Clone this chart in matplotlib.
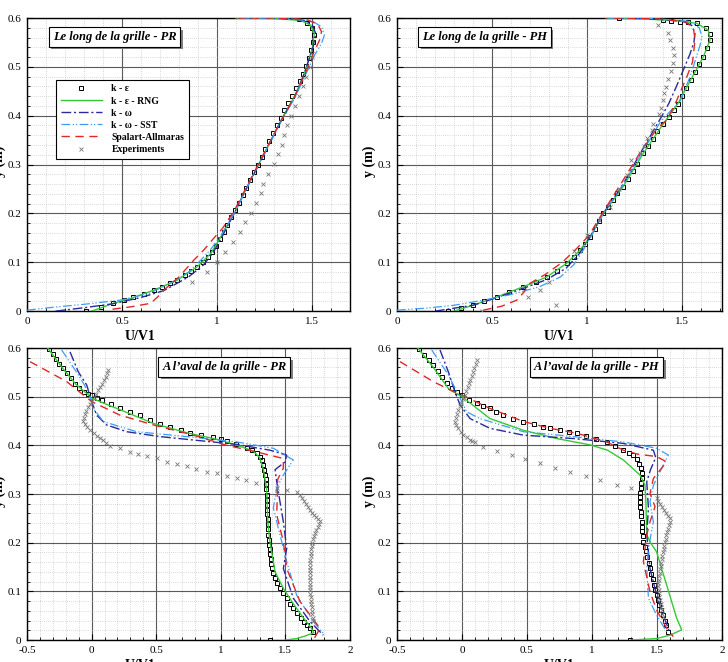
import matplotlib
matplotlib.use("Agg")
import matplotlib.pyplot as plt
from matplotlib import transforms
from matplotlib.ticker import MultipleLocator

plt.rcParams["font.family"] = ["Liberation Serif", "DejaVu Serif"]

# ------------------- #
# Le long de la grille - PR

pr_long_ke_x = [0.31, 0.39, 0.455, 0.51, 0.56, 0.615, 0.667, 0.71, 0.75, 0.79, 0.83, 0.865, 0.896, 0.925,
                0.95, 0.975, 0.995, 1.015, 1.035, 1.055, 1.075, 1.095, 1.115, 1.135, 1.155, 1.175, 1.195,
                1.215, 1.235, 1.255, 1.275, 1.295, 1.315, 1.335, 1.355, 1.375, 1.395, 1.415, 1.435, 1.455,
                1.47, 1.485, 1.497, 1.506, 1.51, 1.5, 1.475, 1.43]
pr_long_ke_y = [0.0, 0.008, 0.016, 0.022, 0.028, 0.035, 0.043, 0.05, 0.057, 0.064, 0.073, 0.082, 0.091, 0.101,
                0.111, 0.122, 0.134, 0.147, 0.162, 0.177, 0.192, 0.207, 0.222, 0.237, 0.252, 0.268, 0.284,
                0.3, 0.316, 0.332, 0.348, 0.364, 0.38, 0.396, 0.411, 0.426, 0.441, 0.456, 0.471, 0.486,
                0.502, 0.518, 0.534, 0.55, 0.566, 0.58, 0.59, 0.597]
pr_long_rng_x = [0.34, 0.455, 0.545, 0.667, 0.79, 0.896, 0.967, 1.02, 1.09, 1.16, 1.248, 1.337, 1.407, 1.46,
                 1.504, 1.512, 1.49, 1.44, 1.3, 1.1]
pr_long_rng_y = [0.0, 0.016, 0.026, 0.043, 0.063, 0.091, 0.118, 0.152, 0.2, 0.255, 0.323, 0.391, 0.439, 0.487,
                 0.541, 0.569, 0.586, 0.595, 0.599, 0.6]
pr_long_kw_x = [0.15, 0.3, 0.45, 0.6, 0.72, 0.85, 0.93, 0.98, 1.03, 1.09, 1.16, 1.25, 1.34, 1.41, 1.46, 1.505,
                1.52, 1.5, 1.45, 1.3, 1.1]
pr_long_kw_y = [0.0, 0.007, 0.015, 0.028, 0.042, 0.07, 0.095, 0.12, 0.155, 0.2, 0.255, 0.323, 0.391, 0.439,
                0.487, 0.54, 0.568, 0.587, 0.596, 0.6, 0.6]
pr_long_sst_x = [0.0, 0.14, 0.3, 0.49, 0.64, 0.755, 0.85, 0.914, 0.97, 1.02, 1.09, 1.16, 1.25, 1.34, 1.41,
                 1.465, 1.515, 1.55, 1.565, 1.55, 1.5, 1.35, 1.1]
pr_long_sst_y = [0.002, 0.008, 0.014, 0.0225, 0.036, 0.057, 0.08, 0.104, 0.128, 0.155, 0.2, 0.255, 0.323,
                 0.391, 0.437, 0.483, 0.525, 0.548, 0.565, 0.582, 0.594, 0.6, 0.6]
pr_long_sa_x = [0.45, 0.55, 0.65, 0.69, 0.72, 0.8, 0.877, 0.93, 0.98, 1.03, 1.09, 1.16, 1.25, 1.34, 1.41,
                1.465, 1.51, 1.54, 1.55, 1.53, 1.47, 1.3, 1.1]
pr_long_sa_y = [0.004, 0.009, 0.016, 0.03, 0.043, 0.07, 0.104, 0.125, 0.148, 0.17, 0.205, 0.258, 0.325,
                0.392, 0.44, 0.487, 0.53, 0.555, 0.572, 0.587, 0.597, 0.6, 0.6]
pr_long_exp_x = [0.87, 0.949, 1.002, 1.041, 1.085, 1.12, 1.146, 1.178, 1.206, 1.231, 1.243, 1.266, 1.301,
                 1.319, 1.34, 1.35, 1.37, 1.39, 1.41, 1.43, 1.45, 1.47, 1.49, 1.5]
pr_long_exp_y = [0.06, 0.08, 0.1, 0.121, 0.141, 0.161, 0.182, 0.201, 0.221, 0.241, 0.261, 0.28, 0.301,
                 0.321, 0.341, 0.36, 0.38, 0.4, 0.42, 0.44, 0.46, 0.48, 0.5, 0.52]

# ------------------- #
# Le long de la grille - PH

ph_long_ke_x = [0.27, 0.335, 0.4, 0.46, 0.525, 0.59, 0.665, 0.73, 0.788, 0.84, 0.893, 0.93, 0.963, 0.99,
                1.016, 1.04, 1.063, 1.086, 1.11, 1.135, 1.16, 1.19, 1.215, 1.24, 1.265, 1.296, 1.32, 1.345,
                1.37, 1.402, 1.43, 1.455, 1.478, 1.5, 1.522, 1.545, 1.568, 1.59, 1.612, 1.632, 1.647, 1.645,
                1.625, 1.577, 1.53, 1.49, 1.44, 1.4, 1.17]
ph_long_ke_y = [0.0, 0.006, 0.012, 0.02, 0.029, 0.039, 0.05, 0.06, 0.07, 0.083, 0.098, 0.111, 0.125, 0.138,
                0.152, 0.168, 0.184, 0.2, 0.214, 0.228, 0.241, 0.255, 0.27, 0.286, 0.302, 0.323, 0.338, 0.353,
                0.368, 0.384, 0.398, 0.412, 0.425, 0.441, 0.457, 0.473, 0.489, 0.505, 0.521, 0.538, 0.555,
                0.568, 0.58, 0.589, 0.591, 0.592, 0.594, 0.596, 0.6]
ph_long_rng_x = [0.3, 0.4, 0.525, 0.665, 0.788, 0.893, 0.963, 1.016, 1.086, 1.19, 1.296, 1.402, 1.478, 1.545,
                 1.612, 1.647, 1.638, 1.577, 1.49, 1.3, 1.1]
ph_long_rng_y = [0.0, 0.012, 0.029, 0.05, 0.07, 0.098, 0.125, 0.152, 0.2, 0.255, 0.323, 0.384, 0.425, 0.473,
                 0.521, 0.555, 0.575, 0.589, 0.594, 0.598, 0.6]
ph_long_kw_x = [0.2, 0.3, 0.4, 0.52, 0.66, 0.79, 0.89, 0.96, 1.016, 1.086, 1.19, 1.29, 1.38, 1.43, 1.47,
                1.507, 1.54, 1.562, 1.568, 1.55, 1.5, 1.3, 1.1]
ph_long_kw_y = [0.0, 0.006, 0.012, 0.027, 0.046, 0.065, 0.088, 0.118, 0.152, 0.2, 0.26, 0.33, 0.39, 0.425,
                0.46, 0.494, 0.525, 0.55, 0.569, 0.585, 0.594, 0.599, 0.6]
ph_long_sst_x = [0.0, 0.15, 0.3, 0.45, 0.6, 0.75, 0.86, 0.93, 0.98, 1.02, 1.086, 1.19, 1.29, 1.39, 1.44,
                 1.49, 1.542, 1.575, 1.595, 1.604, 1.59, 1.54, 1.35, 1.1]
ph_long_sst_y = [0.002, 0.006, 0.012, 0.022, 0.034, 0.05, 0.07, 0.095, 0.125, 0.152, 0.2, 0.26, 0.325, 0.39,
                 0.41, 0.43, 0.48, 0.52, 0.545, 0.562, 0.58, 0.593, 0.599, 0.6]
ph_long_sa_x = [0.454, 0.55, 0.63, 0.67, 0.7, 0.78, 0.87, 0.95, 1.01, 1.08, 1.18, 1.28, 1.37, 1.42, 1.47,
                1.525, 1.555, 1.56, 1.568, 1.56, 1.52, 1.35, 1.1]
ph_long_sa_y = [0.002, 0.01, 0.0225, 0.04, 0.057, 0.075, 0.1, 0.13, 0.155, 0.2, 0.262, 0.325, 0.375, 0.391,
                0.43, 0.48, 0.51, 0.528, 0.555, 0.578, 0.592, 0.599, 0.6]
ph_long_exp_x = [0.446, 0.837, 0.691, 0.753, 0.8, 0.933, 1.0, 1.065, 1.121, 1.17, 1.209, 1.23, 1.279, 1.3,
                 1.314, 1.34, 1.346, 1.38, 1.387, 1.402, 1.404, 1.416, 1.425, 1.442, 1.451, 1.458, 1.454,
                 1.437, 1.425, 1.375]
ph_long_exp_y = [0.0, 0.012, 0.029, 0.043, 0.06, 0.124, 0.155, 0.186, 0.214, 0.25, 0.279, 0.309, 0.323,
                 0.339, 0.354, 0.371, 0.384, 0.403, 0.415, 0.432, 0.446, 0.459, 0.476, 0.492, 0.508, 0.524,
                 0.538, 0.555, 0.569, 0.586]

# ------------------- #
# A l'aval de la grille - PR

pr_aval_ke_x = [-0.327, -0.3, -0.275, -0.25, -0.219, -0.19, -0.16, -0.128, -0.095, -0.06, -0.03, 0.0, 0.04,
                0.078, 0.15, 0.22, 0.3, 0.375, 0.45, 0.529, 0.61, 0.69, 0.762, 0.85, 0.942, 1.0, 1.046,
                1.12, 1.2, 1.245, 1.278, 1.3, 1.317, 1.328, 1.336, 1.342, 1.346, 1.35, 1.352, 1.355,
                1.356, 1.358, 1.359, 1.36, 1.362, 1.364, 1.365, 1.368, 1.371, 1.374, 1.378, 1.382, 1.386,
                1.39, 1.394, 1.405, 1.418, 1.432, 1.458, 1.48, 1.51, 1.535, 1.561, 1.59, 1.62, 1.645,
                1.665, 1.69, 1.716, 1.381]
pr_aval_ke_y = [0.598, 0.588, 0.578, 0.568, 0.558, 0.548, 0.538, 0.527, 0.518, 0.51, 0.506, 0.503, 0.498,
                0.493, 0.484, 0.476, 0.469, 0.462, 0.453, 0.444, 0.437, 0.431, 0.426, 0.422, 0.418, 0.413,
                0.409, 0.402, 0.395, 0.39, 0.384, 0.377, 0.37, 0.36, 0.35, 0.339, 0.33, 0.32, 0.31, 0.298,
                0.288, 0.278, 0.268, 0.258, 0.248, 0.238, 0.228, 0.216, 0.206, 0.196, 0.186, 0.176, 0.166,
                0.156, 0.147, 0.137, 0.127, 0.118, 0.106, 0.097, 0.086, 0.075, 0.065, 0.055, 0.046, 0.038,
                0.031, 0.024, 0.017, 0.0]
pr_aval_rng_x = [-0.34, -0.22, -0.12, -0.03, 0.0, 0.1, 0.25, 0.478, 0.75, 0.994, 1.15, 1.252, 1.3, 1.33,
                 1.355, 1.36, 1.365, 1.381, 1.42, 1.484, 1.56, 1.64, 1.7, 1.72, 1.65, 1.587, 1.5]
pr_aval_rng_y = [0.6, 0.557, 0.525, 0.505, 0.497, 0.486, 0.47, 0.445, 0.425, 0.411, 0.398, 0.388, 0.375,
                 0.35, 0.31, 0.27, 0.24, 0.2, 0.14, 0.106, 0.075, 0.045, 0.025, 0.015, 0.008, 0.003, 0.0]
pr_aval_kw_x = [-0.167, -0.103, -0.038, 0.0, 0.039, 0.116, 0.272, 0.529, 0.787, 1.123, 1.381, 1.51, 1.497,
                1.42, 1.433, 1.458, 1.484, 1.51, 1.484, 1.561, 1.69, 1.793]
pr_aval_kw_y = [0.592, 0.551, 0.524, 0.49, 0.462, 0.442, 0.428, 0.418, 0.411, 0.402, 0.39, 0.38, 0.366,
                0.35, 0.325, 0.284, 0.243, 0.188, 0.147, 0.086, 0.038, 0.01]
pr_aval_sst_x = [-0.232, -0.103, -0.025, 0.013, 0.09, 0.349, 0.736, 1.123, 1.407, 1.561, 1.484, 1.432,
                 1.407, 1.458, 1.51, 1.587, 1.716, 1.806]
pr_aval_sst_y = [0.596, 0.545, 0.51, 0.476, 0.449, 0.428, 0.418, 0.407, 0.394, 0.37, 0.339, 0.312, 0.271,
                 0.216, 0.161, 0.092, 0.038, 0.01]
pr_aval_sa_x = [-0.477, -0.193, 0.0, 0.22, 0.478, 0.787, 1.046, 1.252, 1.484, 1.484, 1.44, 1.433, 1.484,
                1.51, 1.613, 1.768, 1.716]
pr_aval_sa_y = [0.572, 0.531, 0.49, 0.462, 0.442, 0.421, 0.4, 0.388, 0.373, 0.353, 0.33, 0.257, 0.202,
                0.147, 0.079, 0.024, 0.0]
pr_aval_exp_x = [0.13, 0.12, 0.108, 0.095, 0.08, 0.065, 0.05, 0.035, 0.02, 0.005, -0.01, -0.025, -0.04,
                 -0.05, -0.058, -0.064, -0.055, -0.035, -0.012, 0.015, 0.04, 0.065, 0.09, 0.115, 0.14,
                 0.22, 0.297, 0.362, 0.431, 0.504, 0.581, 0.659, 0.736, 0.808, 0.891, 0.968, 1.046, 1.123,
                 1.195, 1.272, 1.433, 1.51, 1.587, 1.613, 1.63, 1.645, 1.66, 1.675, 1.69, 1.705, 1.72,
                 1.735, 1.75, 1.765, 1.76, 1.75, 1.74, 1.73, 1.72, 1.712, 1.706, 1.703, 1.7, 1.698, 1.696,
                 1.694, 1.692, 1.691, 1.69, 1.69, 1.69, 1.69, 1.69, 1.69, 1.691, 1.693, 1.695, 1.697, 1.7,
                 1.702, 1.705, 1.708, 1.712, 1.716]
pr_aval_exp_y = [0.555, 0.548, 0.541, 0.534, 0.527, 0.52, 0.513, 0.506, 0.499, 0.492, 0.485, 0.478, 0.471,
                 0.464, 0.457, 0.45, 0.444, 0.438, 0.432, 0.426, 0.42, 0.416, 0.41, 0.404, 0.399,
                 0.394, 0.386, 0.382, 0.378, 0.373, 0.366, 0.362, 0.358, 0.351, 0.346, 0.343, 0.336, 0.332,
                 0.329, 0.323, 0.312, 0.308, 0.305, 0.298, 0.292, 0.286, 0.28, 0.274, 0.268, 0.262, 0.257,
                 0.252, 0.248, 0.244, 0.238, 0.232, 0.226, 0.22, 0.214, 0.207, 0.2, 0.193, 0.186, 0.179,
                 0.172, 0.165, 0.158, 0.151, 0.144, 0.137, 0.13, 0.123, 0.116, 0.109, 0.102, 0.095, 0.088,
                 0.081, 0.074, 0.067, 0.06, 0.053, 0.046, 0.039]

# ------------------- #
# A l'aval de la grille - PH

ph_aval_ke_x = [-0.328, -0.29, -0.255, -0.221, -0.185, -0.15, -0.115, -0.079, -0.04, 0.0, 0.055, 0.113,
                0.165, 0.215, 0.265, 0.318, 0.395, 0.472, 0.55, 0.62, 0.677, 0.75, 0.82, 0.882, 0.95, 1.03,
                1.113, 1.18, 1.241, 1.285, 1.318, 1.345, 1.365, 1.378, 1.382, 1.382, 1.378, 1.374, 1.371,
                1.369, 1.369, 1.371, 1.374, 1.377, 1.382, 1.385, 1.388, 1.391, 1.395, 1.405, 1.415, 1.425,
                1.435, 1.446, 1.456, 1.466, 1.477, 1.487, 1.497, 1.508, 1.518, 1.528, 1.549, 1.56, 1.572,
                1.587, 1.295]
ph_aval_ke_y = [0.598, 0.586, 0.575, 0.565, 0.552, 0.54, 0.528, 0.517, 0.51, 0.503, 0.494, 0.486, 0.481,
                0.476, 0.469, 0.462, 0.455, 0.449, 0.443, 0.438, 0.435, 0.431, 0.428, 0.425, 0.419, 0.413,
                0.407, 0.398, 0.39, 0.385, 0.38, 0.372, 0.362, 0.353, 0.343, 0.332, 0.322, 0.312, 0.302,
                0.293, 0.284, 0.274, 0.264, 0.254, 0.243, 0.233, 0.223, 0.213, 0.202, 0.192, 0.182, 0.17,
                0.158, 0.147, 0.136, 0.125, 0.114, 0.103, 0.092, 0.082, 0.072, 0.062, 0.051, 0.04, 0.03,
                0.017, 0.0]
ph_aval_rng_x = [-0.34, -0.22, -0.1, 0.0, 0.215, 0.472, 0.728, 0.985, 1.12, 1.241, 1.369, 1.408, 1.415,
                 1.421, 1.45, 1.497, 1.574, 1.651, 1.69, 1.6, 1.497, 1.3]
ph_aval_rng_y = [0.6, 0.56, 0.515, 0.5, 0.455, 0.431, 0.414, 0.401, 0.39, 0.37, 0.339, 0.318, 0.28, 0.216,
                 0.2, 0.181, 0.113, 0.045, 0.021, 0.01, 0.003, 0.0]
ph_aval_kw_x = [-0.169, -0.105, -0.054, -0.015, 0.062, 0.215, 0.472, 0.856, 1.241, 1.472, 1.49, 1.45,
                1.421, 1.434, 1.421, 1.446, 1.497, 1.549, 1.6]
ph_aval_kw_y = [0.596, 0.551, 0.51, 0.483, 0.455, 0.435, 0.421, 0.414, 0.404, 0.39, 0.375, 0.35, 0.325,
                0.271, 0.216, 0.147, 0.092, 0.051, 0.014]
ph_aval_sst_x = [-0.233, -0.105, -0.015, 0.036, 0.138, 0.472, 0.856, 1.241, 1.497, 1.587, 1.549, 1.472,
                 1.446, 1.472, 1.434, 1.421, 1.434, 1.497, 1.574]
ph_aval_sst_y = [0.596, 0.545, 0.497, 0.469, 0.455, 0.428, 0.418, 0.407, 0.394, 0.38, 0.36, 0.318, 0.284,
                 0.243, 0.188, 0.147, 0.086, 0.051, 0.017]
ph_aval_sa_x = [-0.477, -0.221, -0.1, 0.0, 0.215, 0.472, 0.677, 0.882, 1.113, 1.241, 1.35, 1.497, 1.574,
                1.472, 1.446, 1.485, 1.446, 1.421, 1.395, 1.446, 1.5, 1.574, 1.625]
ph_aval_sa_y = [0.572, 0.531, 0.515, 0.503, 0.476, 0.449, 0.435, 0.425, 0.407, 0.39, 0.382, 0.377, 0.366,
                0.332, 0.301, 0.274, 0.243, 0.216, 0.161, 0.099, 0.06, 0.024, 0.007]
ph_aval_exp_x = [0.113, 0.105, 0.095, 0.085, 0.075, 0.065, 0.055, 0.045, 0.033, 0.02, 0.008, -0.005, -0.018,
                 -0.03, -0.04, -0.048, -0.054, -0.045, -0.028, -0.01, 0.01, 0.036, 0.06, 0.08, 0.1,
                 0.164, 0.267, 0.382, 0.485, 0.6, 0.715, 0.831, 0.954, 1.062, 1.19, 1.298,
                 1.497, 1.51, 1.525, 1.54, 1.555, 1.57, 1.585, 1.6, 1.597, 1.59, 1.583, 1.577, 1.572, 1.567,
                 1.562, 1.557, 1.552, 1.547, 1.542, 1.537, 1.532, 1.528, 1.524, 1.52, 1.516, 1.513, 1.51,
                 1.51, 1.512, 1.515, 1.518, 1.522, 1.527, 1.532, 1.537, 1.542, 1.549]
ph_aval_exp_y = [0.575, 0.567, 0.559, 0.551, 0.543, 0.535, 0.528, 0.52, 0.512, 0.504, 0.496, 0.488, 0.48,
                 0.473, 0.465, 0.457, 0.449, 0.442, 0.435, 0.428, 0.422, 0.418, 0.412, 0.409, 0.406,
                 0.397, 0.388, 0.381, 0.371, 0.363, 0.354, 0.346, 0.337, 0.329, 0.318, 0.312,
                 0.291, 0.285, 0.279, 0.273, 0.267, 0.261, 0.255, 0.25, 0.243, 0.236, 0.229, 0.222, 0.215,
                 0.208, 0.201, 0.194, 0.187, 0.18, 0.173, 0.166, 0.159, 0.152, 0.145, 0.138, 0.131, 0.124,
                 0.117, 0.11, 0.103, 0.096, 0.089, 0.082, 0.075, 0.068, 0.061, 0.054, 0.047]

# axis ticks
long_xticks = [0, 0.5, 1, 1.5]
long_xlabels = ["0", "0.5", "1", "1.5"]
aval_xticks = [-0.5, 0, 0.5, 1, 1.5, 2]
aval_xlabels = ["-0.5", "0", "0.5", "1", "1.5", "2"]
y_ticks = [0, 0.1, 0.2, 0.3, 0.4, 0.5, 0.6]
y_labels = ["0", "0.1", "0.2", "0.3", "0.4", "0.5", "0.6"]


def draw_series(ax, ke, rng, kw, sst, sa, exp):
    """Draw the five turbulence models and the measurements."""
    ax.plot(*ke, ls="none", marker="s", ms=3.0, mfc="none", mec="black", mew=0.7,
            label="k - ε", zorder=3)
    ax.plot(*rng, color="#35c935", lw=1.0, label="k - ε - RNG", zorder=4)
    ax.plot(*kw, color="#2a2a9c", lw=1.0, ls=(0, (7, 2, 1.5, 2)), label="k - ω", zorder=4)
    ax.plot(*sst, color="#3d9df5", lw=0.9, ls=(0, (7, 2, 1, 1.5, 1, 2)), label="k - ω - SST", zorder=4)
    ax.plot(*sa, color="#e02828", lw=1.0, ls=(0, (6, 4)), label="Spalart-Allmaras", zorder=4)
    ax.plot(*exp, ls="none", marker="x", ms=3.3, mew=0.6, color="#777777", label="Experiments", zorder=5)


def style_axes(ax, fig, xlim, xticks, xlabels, title, title_x, label_x):
    ax.set_xlim(*xlim)
    ax.set_ylim(0, 0.6)
    ax.set_xticks(xticks)
    ax.set_xticklabels(xlabels)
    ax.set_yticks(y_ticks)
    ax.set_yticklabels(y_labels)
    ax.xaxis.set_minor_locator(MultipleLocator(0.1))
    ax.yaxis.set_minor_locator(MultipleLocator(0.02))
    ax.grid(which="major", color="#5a5a5a", lw=0.8)
    ax.grid(which="minor", color="#b5b5b5", lw=0.5, ls=(0, (1, 2)))
    ax.set_axisbelow(True)
    ax.tick_params(which="both", direction="in", labelsize=8, pad=4)
    ax.tick_params(which="major", length=4)
    ax.tick_params(which="minor", length=2)
    for s in ax.spines.values():
        s.set_linewidth(1.0)
    ax.set_xlabel("U/V1", fontsize=10, fontweight="bold")
    ax.xaxis.set_label_coords(label_x, -0.065)
    ax.set_ylabel("y (m)", fontsize=10, fontweight="bold")
    ax.yaxis.set_label_coords(-0.066, 0.51)

    # boxed title with a drop shadow
    shadow = transforms.offset_copy(ax.transAxes, fig=fig, x=2.5, y=-2.5, units="dots")
    kw = dict(ha="center", va="center", fontsize=9, fontweight="bold", style="italic")
    ax.text(title_x, 0.935, title, transform=shadow, color="none", zorder=6,
            bbox=dict(boxstyle="square,pad=0.3", fc="#808080", ec="none"), **kw)
    ax.text(title_x, 0.935, title, transform=ax.transAxes, color="black", zorder=7,
            bbox=dict(boxstyle="square,pad=0.3", fc="white", ec="black", lw=0.8), **kw)


fig = plt.figure(figsize=(7.28, 6.62), dpi=100)
ax_tl = fig.add_axes([0.0371, 0.530, 0.4437, 0.4428])
ax_tr = fig.add_axes([0.5453, 0.530, 0.4465, 0.4428])
ax_bl = fig.add_axes([0.0371, 0.0332, 0.4437, 0.4411])
ax_br = fig.add_axes([0.5453, 0.0332, 0.4465, 0.4411])

draw_series(ax_tl, (pr_long_ke_x, pr_long_ke_y), (pr_long_rng_x, pr_long_rng_y),
            (pr_long_kw_x, pr_long_kw_y), (pr_long_sst_x, pr_long_sst_y),
            (pr_long_sa_x, pr_long_sa_y), (pr_long_exp_x, pr_long_exp_y))
draw_series(ax_tr, (ph_long_ke_x, ph_long_ke_y), (ph_long_rng_x, ph_long_rng_y),
            (ph_long_kw_x, ph_long_kw_y), (ph_long_sst_x, ph_long_sst_y),
            (ph_long_sa_x, ph_long_sa_y), (ph_long_exp_x, ph_long_exp_y))
draw_series(ax_bl, (pr_aval_ke_x, pr_aval_ke_y), (pr_aval_rng_x, pr_aval_rng_y),
            (pr_aval_kw_x, pr_aval_kw_y), (pr_aval_sst_x, pr_aval_sst_y),
            (pr_aval_sa_x, pr_aval_sa_y), (pr_aval_exp_x, pr_aval_exp_y))
draw_series(ax_br, (ph_aval_ke_x, ph_aval_ke_y), (ph_aval_rng_x, ph_aval_rng_y),
            (ph_aval_kw_x, ph_aval_kw_y), (ph_aval_sst_x, ph_aval_sst_y),
            (ph_aval_sa_x, ph_aval_sa_y), (ph_aval_exp_x, ph_aval_exp_y))

style_axes(ax_tl, fig, (0, 1.7), long_xticks, long_xlabels, "Le long de la grille - PR", 0.271, 0.35)
style_axes(ax_tr, fig, (0, 1.71), long_xticks, long_xlabels, "Le long de la grille - PH", 0.269, 0.5)
style_axes(ax_bl, fig, (-0.5, 2), aval_xticks, aval_xlabels, "A l’aval de la grille - PR", 0.611, 0.35)
style_axes(ax_br, fig, (-0.5, 2), aval_xticks, aval_xlabels, "A l’aval de la grille - PH", 0.614, 0.5)

leg = ax_tl.legend(loc="upper left", bbox_to_anchor=(0.09, 0.79), borderaxespad=0, fancybox=False,
                   framealpha=1, edgecolor="black", prop={"weight": "bold", "size": 7}, handlelength=4.2,
                   handletextpad=1.0, labelspacing=0.32, borderpad=0.5, numpoints=1)
leg.get_frame().set_linewidth(0.8)
leg.set_zorder(8)

fig.savefig("out.png", dpi=100)
